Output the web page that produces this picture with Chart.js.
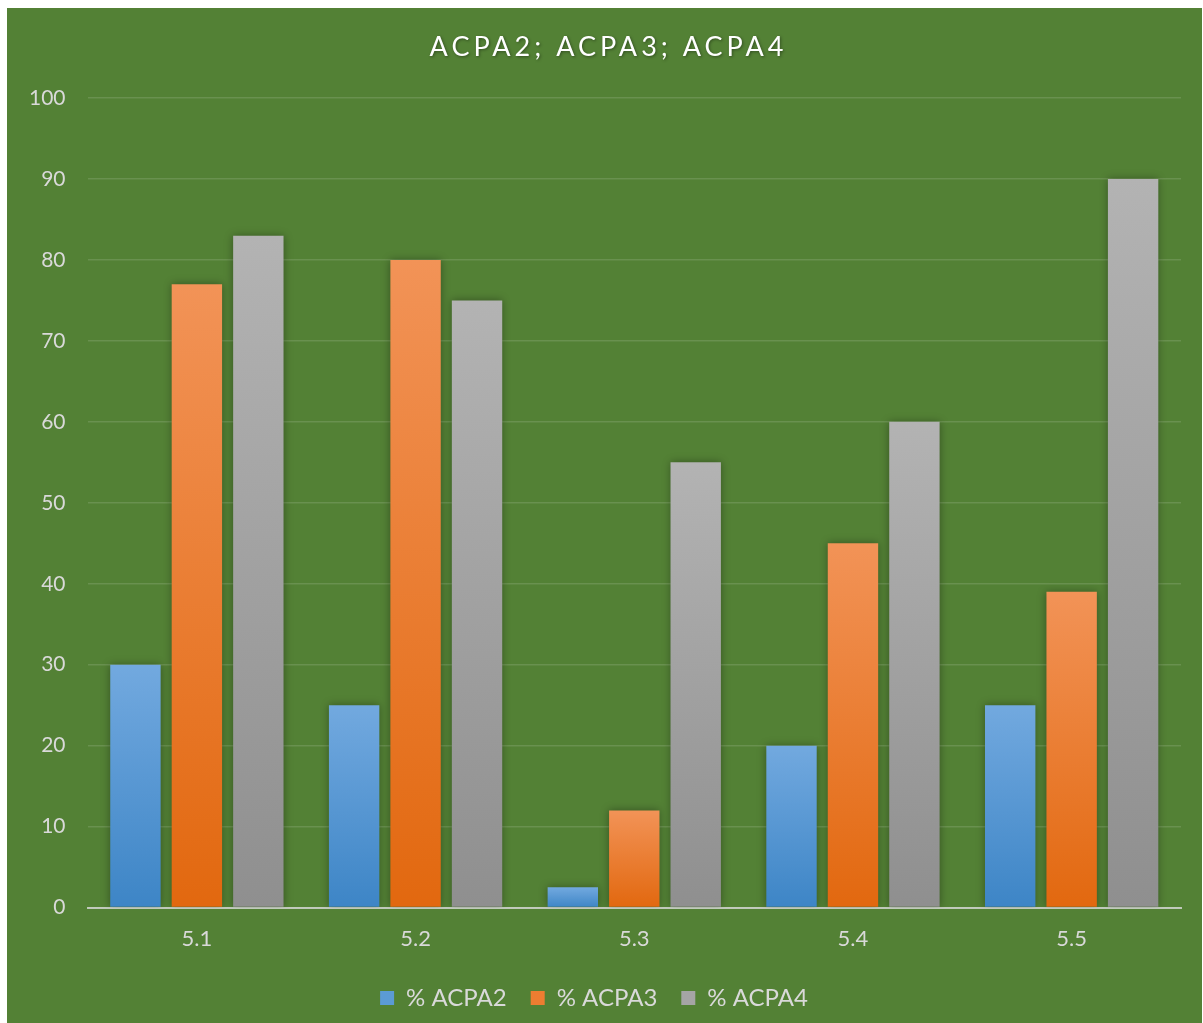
<!DOCTYPE html>
<html>
<head>
<meta charset="utf-8">
<script src="https://cdn.jsdelivr.net/npm/chart.js@4.4.1/dist/chart.umd.min.js"></script>
<style>
  html, body { margin: 0; padding: 0; background: #ffffff; }
  #wrap { position: absolute; left: 7px; top: 8px; width: 1195px; height: 1015px; background: #538135; }
</style>
</head>
<body>
<div id="wrap"><canvas id="acpaChart"></canvas></div>
<script>
// chart data
const categories = ["5.1", "5.2", "5.3", "5.4", "5.5"];
const acpa2 = [30, 25, 2.5, 20, 25];
const acpa3 = [77, 80, 12, 45, 39];
const acpa4 = [83, 75, 55, 60, 90];
const seriesNames = ["% ACPA2", "% ACPA3", "% ACPA4"];
const chartTitle = "ACPA2; ACPA3; ACPA4";

// gradient per bar: light at top, darker at the base
function barFill(top, bottom) {
  return function (context) {
    const chart = context.chart;
    const y = chart.scales.y;
    if (!y || context.raw === undefined) return bottom;
    const yTop = y.getPixelForValue(context.raw);
    const yBase = y.getPixelForValue(0);
    if (!isFinite(yTop) || yBase - yTop < 1) return bottom;
    const g = chart.ctx.createLinearGradient(0, yTop, 0, yBase);
    g.addColorStop(0, top);
    g.addColorStop(1, bottom);
    return g;
  };
}

const shadowPlugin = {
  id: "barShadow",
  beforeDatasetsDraw(chart) {
    const ctx = chart.ctx;
    ctx.save();
    ctx.shadowColor = "rgba(0,0,0,0.35)";
    ctx.shadowBlur = 8;
    ctx.shadowOffsetX = 0;
    ctx.shadowOffsetY = 0;
  },
  afterDatasetsDraw(chart) {
    chart.ctx.restore();
  }
};

const titlePlugin = {
  id: "spacedTitle",
  afterDraw(chart) {
    const ctx = chart.ctx;
    ctx.save();
    ctx.font = "27px Lato";
    ctx.letterSpacing = "4px";
    ctx.fillStyle = "#ffffff";
    ctx.textAlign = "center";
    ctx.textBaseline = "middle";
    ctx.shadowColor = "rgba(0,0,0,0.4)";
    ctx.shadowBlur = 3;
    ctx.shadowOffsetX = 1;
    ctx.shadowOffsetY = 1;
    ctx.fillText(chartTitle, chart.width / 2 + 4, 39);
    ctx.restore();
  }
};

const ctx = document.getElementById("acpaChart").getContext("2d");
const acpaChart = new Chart(ctx, {
  type: "bar",
  data: {
    labels: categories,
    datasets: [
      { label: seriesNames[0], data: acpa2, backgroundColor: barFill("#72a9df", "#3d85c6"), legendColor: "#5b9bd5" },
      { label: seriesNames[1], data: acpa3, backgroundColor: barFill("#f29357", "#e2680f"), legendColor: "#ed7d31" },
      { label: seriesNames[2], data: acpa4, backgroundColor: barFill("#b3b3b3", "#8f8f8f"), legendColor: "#a5a5a5" }
    ]
  },
  options: {
    responsive: true,
    maintainAspectRatio: false,
    animation: false,
    categoryPercentage: 0.843,
    barPercentage: 0.82,
    layout: { padding: { top: 90, right: 21, left: 0, bottom: 3 } },
    plugins: {
      title: { display: false },
      tooltip: { enabled: false },
      legend: {
        position: "bottom",
        labels: {
          color: "#d9d9d9",
          font: { family: "Lato", size: 24 },
          boxWidth: 14,
          boxHeight: 14,
          padding: 24,
          generateLabels(chart) {
            return chart.data.datasets.map((ds, i) => ({
              text: ds.label,
              fillStyle: ds.legendColor,
              strokeStyle: ds.legendColor,
              lineWidth: 0,
              fontColor: "#d9d9d9",
              datasetIndex: i,
              hidden: false
            }));
          }
        }
      }
    },
    scales: {
      x: {
        grid: { display: false },
        border: { display: true, color: "rgba(217,217,217,0.8)", width: 2 },
        ticks: { color: "#d9d9d9", font: { family: "Lato", size: 22 }, padding: 10 }
      },
      y: {
        min: 0,
        max: 100,
        ticks: { stepSize: 10, color: "#d9d9d9", font: { family: "Lato", size: 21 }, padding: 22 },
        grid: { color: "rgba(255,255,255,0.13)", lineWidth: 1.5, drawTicks: false },
        border: { display: false }
      }
    }
  },
  plugins: [shadowPlugin, titlePlugin]
});
</script>
</body>
</html>
